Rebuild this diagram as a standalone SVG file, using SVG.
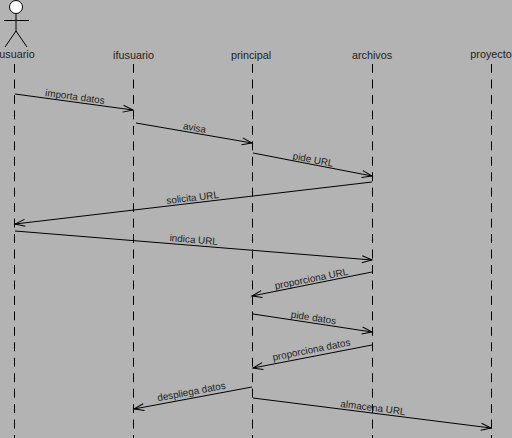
<svg xmlns="http://www.w3.org/2000/svg" width="512" height="438" viewBox="0 0 512 438">
<style>
.bg{fill:#b3b3b3}
.life{stroke:#000;stroke-width:1;stroke-dasharray:9 6.460;fill:none}
.msg{stroke:#000;stroke-width:1;fill:none}
.stick{stroke:#000;stroke-width:1;fill:none}
text{font-family:"Liberation Sans",Arial,sans-serif;font-size:9.900px;fill:#222;text-anchor:middle}
text.head{font-size:10.800px}
</style>
<defs>
<marker id="open" markerUnits="userSpaceOnUse" markerWidth="14" markerHeight="14" refX="12" refY="7" orient="auto">
<path d="M2 3.500L12 7L2 10.500" fill="none" stroke="#000" stroke-width="1"/>
</marker>
</defs>
<rect class="bg" width="512" height="438"/>
<g id="usuario">
<circle cx="16" cy="7" r="6.500" fill="#fff" stroke="#000"/>
<path class="stick" d="M16 14V31M4 20.500H29M16 31L5 47M16 31L27 47"/>
<text class="head" x="17" y="58">usuario</text>
<path class="life" d="M14.500 64V438"/>
</g>
<g id="ifusuario">
<text class="head" x="133.500" y="59">ifusuario</text>
<path class="life" d="M133.500 64V438"/>
</g>
<g id="principal">
<text class="head" x="251" y="59">principal</text>
<path class="life" d="M252.500 64V438"/>
</g>
<g id="archivos">
<text class="head" x="372" y="59">archivos</text>
<path class="life" d="M372.500 64V438"/>
</g>
<g id="proyecto">
<text class="head" x="491" y="58">proyecto</text>
<path class="life" d="M491.500 64V438"/>
</g>
<g id="connectors">
<path class="msg" marker-end="url(#open)" d="M15 94L133 110"/>
<path class="msg" marker-end="url(#open)" d="M136 123L252 143"/>
<path class="msg" marker-end="url(#open)" d="M253 153L372 176"/>
<path class="msg" marker-end="url(#open)" d="M372 182L15 224"/>
<path class="msg" marker-end="url(#open)" d="M15 231L372 260"/>
<path class="msg" marker-end="url(#open)" d="M372 272L252 296"/>
<path class="msg" marker-end="url(#open)" d="M253 314L372 332"/>
<path class="msg" marker-end="url(#open)" d="M372 345L253 368"/>
<path class="msg" marker-end="url(#open)" d="M252 387L134 409"/>
<path class="msg" marker-end="url(#open)" d="M253 398L491 428"/>
<text transform="translate(74.500 100) rotate(7.700)">importa datos</text>
<text transform="translate(194 131) rotate(9.800)">avisa</text>
<text transform="translate(312.500 163) rotate(10.900)">pide URL</text>
<text transform="translate(193 201) rotate(-6.700)">solicita URL</text>
<text transform="translate(193.500 243) rotate(4.600)">indica URL</text>
<text transform="translate(312 282) rotate(-11.300)">proporciona URL</text>
<text transform="translate(313 321) rotate(8.600)">pide datos</text>
<text transform="translate(312 353) rotate(-11.300)">proporciona datos</text>
<text transform="translate(192 395) rotate(-10.600)">despliega datos</text>
<text transform="translate(372.500 411) rotate(7.200)">almacena URL</text>
</g>
</svg>
